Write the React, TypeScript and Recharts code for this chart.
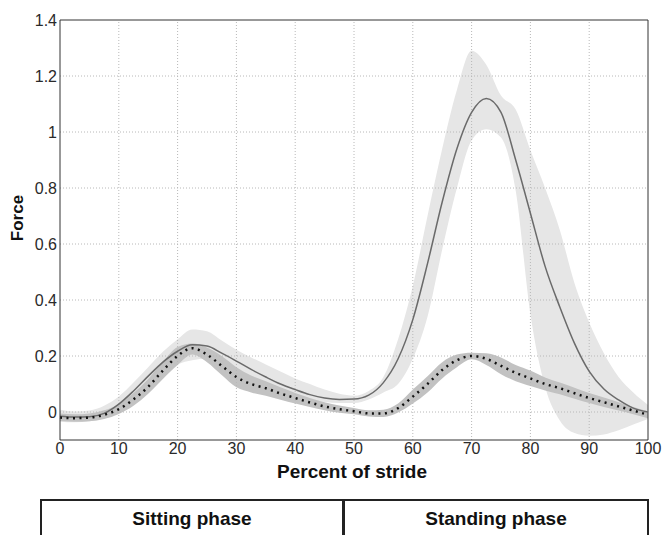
import React from "react";
import {
  ComposedChart,
  Area,
  Line,
  XAxis,
  YAxis,
  ReferenceLine,
} from "recharts";

// percent of stride (x) sampled every 2.5 %
const pct = [
  0, 2.5, 5, 7.5, 10, 12.5, 15, 17.5, 20, 22.5, 25, 27.5, 30, 32.5, 35, 37.5, 40,
  42.5, 45, 47.5, 50, 52.5, 55, 57.5, 60, 62.5, 65, 67.5, 70, 72.5, 75, 77.5, 80,
  82.5, 85, 87.5, 90, 92.5, 95, 97.5, 100,
];

// solid line mean and its light grey band
const solidMean = [
  -0.015, -0.018, -0.017, -0.005, 0.028, 0.075, 0.128, 0.178, 0.217, 0.24, 0.236,
  0.21, 0.182, 0.152, 0.125, 0.1, 0.08, 0.062, 0.05, 0.045, 0.046, 0.06, 0.105,
  0.19, 0.33, 0.53, 0.75, 0.94, 1.07, 1.12, 1.07, 0.9, 0.71, 0.52, 0.375, 0.245,
  0.145, 0.082, 0.043, 0.014, 0.0,
];
const solidHigh = [
  0.008, 0.002, 0.005, 0.022, 0.055, 0.105, 0.16, 0.215, 0.26, 0.295, 0.288,
  0.255, 0.222, 0.195, 0.17, 0.145, 0.12, 0.1, 0.08, 0.065, 0.058, 0.075, 0.125,
  0.26, 0.45, 0.7, 0.94, 1.15, 1.29, 1.24, 1.13, 1.08, 0.935, 0.8, 0.65, 0.46,
  0.32, 0.21, 0.125, 0.07, 0.025,
];
const solidLow = [
  -0.035, -0.037, -0.033, -0.022, 0.005, 0.045, 0.095, 0.135, 0.17, 0.185, 0.19,
  0.175, 0.155, 0.125, 0.1, 0.078, 0.06, 0.045, 0.036, 0.032, 0.032, 0.045, 0.07,
  0.1, 0.19, 0.34, 0.58, 0.8, 0.97, 1.01, 0.98, 0.79, 0.35, 0.09, -0.03, -0.075,
  -0.085, -0.08, -0.065, -0.045, -0.025,
];

// dotted line mean and its darker band
const dottedMean = [
  -0.02, -0.022, -0.02, -0.01, 0.01, 0.045, 0.09, 0.148, 0.2, 0.228, 0.205,
  0.165, 0.125, 0.1, 0.085, 0.066, 0.05, 0.034, 0.02, 0.01, 0.003, -0.005,
  -0.005, 0.014, 0.055, 0.1, 0.15, 0.185, 0.2, 0.19, 0.165, 0.14, 0.12, 0.1,
  0.085, 0.067, 0.05, 0.035, 0.02, 0.005, -0.01,
];
const dottedHigh = [
  -0.005, -0.008, -0.005, 0.006, 0.028, 0.068, 0.118, 0.18, 0.232, 0.245, 0.23,
  0.2, 0.16, 0.13, 0.11, 0.088, 0.068, 0.05, 0.035, 0.023, 0.014, 0.006, 0.008,
  0.03, 0.08, 0.128, 0.178, 0.205, 0.212, 0.21, 0.195, 0.168, 0.148, 0.123,
  0.105, 0.087, 0.068, 0.052, 0.035, 0.018, 0.003,
];
const dottedLow = [
  -0.032, -0.035, -0.033, -0.025, -0.007, 0.022, 0.065, 0.118, 0.168, 0.205,
  0.178, 0.132, 0.088, 0.07, 0.058, 0.044, 0.03, 0.018, 0.006, -0.003, -0.008,
  -0.016, -0.018, -0.002, 0.03, 0.07, 0.12, 0.16, 0.188, 0.168, 0.135, 0.11,
  0.093, 0.077, 0.063, 0.047, 0.032, 0.018, 0.005, -0.008, -0.022,
];

const xTicks = [0, 10, 20, 30, 40, 50, 60, 70, 80, 90, 100];
const yTicks = [0, 0.2, 0.4, 0.6, 0.8, 1, 1.2, 1.4];

const phases = ["Sitting phase", "Standing phase"];

const rows = pct.map((p, i) => ({
  pct: p,
  solid: solidMean[i],
  solidBand: [solidLow[i], solidHigh[i]],
  dotted: dottedMean[i],
  dottedBand: [dottedLow[i], dottedHigh[i]],
}));

const FONT = '"Liberation Sans", Arial, Helvetica, sans-serif';
const tickStyle = { fill: "#2a2a2a", fontSize: 16, fontFamily: FONT };
const gridStroke = "#b8b8b8";

export default function App() {
  return (
    <div
      style={{
        position: "absolute",
        left: 0,
        top: 0,
        width: 662,
        height: 535,
        background: "#fff",
        overflow: "hidden",
        fontFamily: FONT,
      }}
    >
      <ComposedChart
        width={662}
        height={535}
        data={rows}
        margin={{ top: 20, right: 14, bottom: 55, left: 0 }}
      >
        <XAxis
          dataKey="pct"
          type="number"
          domain={[0, 100]}
          ticks={xTicks}
          interval={0}
          height={40}
          tickLine={false}
          tickSize={3}
          tickMargin={0}
          axisLine={{ stroke: "#333", strokeWidth: 1 }}
          tick={tickStyle}
        />
        <YAxis
          type="number"
          domain={[-0.1, 1.4]}
          ticks={yTicks}
          interval={0}
          width={60}
          tickLine={false}
          tickSize={3}
          tickMargin={0}
          axisLine={{ stroke: "#333", strokeWidth: 1 }}
          tick={tickStyle}
          tickFormatter={(v: number) => String(v)}
        />
        <Area
          dataKey="solidBand"
          type="monotone"
          stroke="none"
          fill="#e6e6e6"
          fillOpacity={1}
          isAnimationActive={false}
          dot={false}
          activeDot={false}
        />
        <Area
          dataKey="dottedBand"
          type="monotone"
          stroke="none"
          fill="#c2c2c2"
          fillOpacity={1}
          isAnimationActive={false}
          dot={false}
          activeDot={false}
        />
        {xTicks.slice(1, -1).map((t) => (
          <ReferenceLine
            key={"gx" + t}
            x={t}
            stroke={gridStroke}
            strokeDasharray="1 2"
          />
        ))}
        {yTicks.slice(0, -1).map((t) => (
          <ReferenceLine
            key={"gy" + t}
            y={t}
            stroke={gridStroke}
            strokeDasharray="1 2"
          />
        ))}
        <ReferenceLine y={1.4} stroke="#333" />
        <ReferenceLine x={100} stroke="#333" />
        <Line
          dataKey="solid"
          type="monotone"
          stroke="#6a6a6a"
          strokeWidth={1.5}
          dot={false}
          activeDot={false}
          isAnimationActive={false}
        />
        <Line
          dataKey="dotted"
          type="monotone"
          stroke="#111"
          strokeWidth={2.5}
          strokeDasharray="2 4.5"
          dot={false}
          activeDot={false}
          isAnimationActive={false}
        />
      </ComposedChart>

      {/* axis titles */}
      <div
        style={{
          position: "absolute",
          left: 352,
          top: 472,
          transform: "translate(-50%, -50%)",
          fontWeight: "bold",
          fontSize: 19,
          color: "#111",
          whiteSpace: "nowrap",
        }}
      >
        Percent of stride
      </div>
      <div
        style={{
          position: "absolute",
          left: 18,
          top: 218,
          transform: "translate(-50%, -50%) rotate(-90deg)",
          fontWeight: "bold",
          fontSize: 17,
          color: "#111",
          whiteSpace: "nowrap",
        }}
      >
        Force
      </div>

      {/* phase boxes under the chart */}
      <div
        style={{
          position: "absolute",
          left: 40,
          top: 499,
          width: 304,
          height: 60,
          borderTop: "2px solid #222",
          borderLeft: "2px solid #222",
          borderRight: "2px solid #222",
          boxSizing: "border-box",
          textAlign: "center",
          fontWeight: "bold",
          fontSize: 19,
          color: "#111",
          paddingTop: 7,
        }}
      >
        {phases[0]}
      </div>
      <div
        style={{
          position: "absolute",
          left: 344,
          top: 499,
          width: 305,
          height: 60,
          borderTop: "2px solid #222",
          borderLeft: "1px solid #222",
          borderRight: "2px solid #222",
          boxSizing: "border-box",
          textAlign: "center",
          fontWeight: "bold",
          fontSize: 19,
          color: "#111",
          paddingTop: 7,
        }}
      >
        {phases[1]}
      </div>
    </div>
  );
}
